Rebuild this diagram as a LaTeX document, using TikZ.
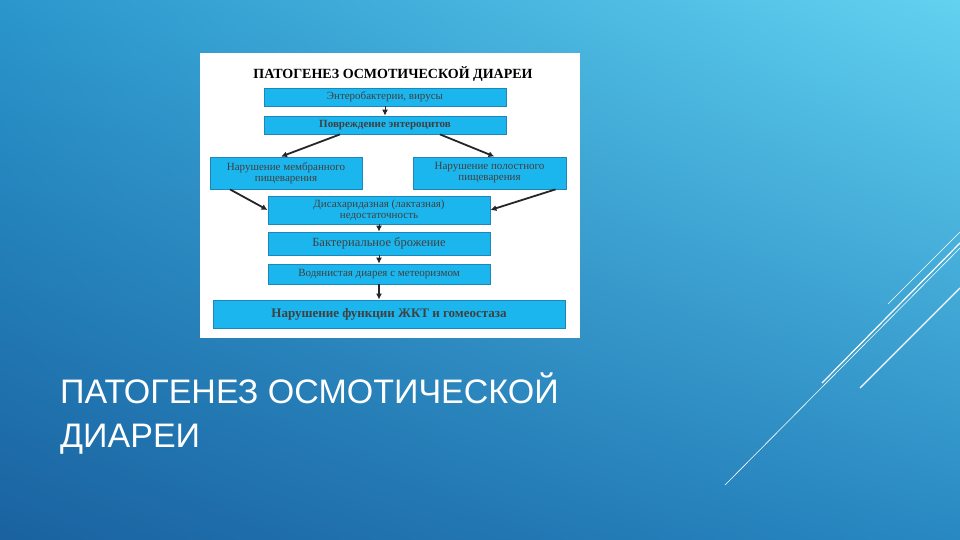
\documentclass[tikz,border=0pt]{standalone}
\usepackage{fontspec}
\setmainfont{Liberation Serif}
\newfontfamily\titlefont{Liberation Sans}
\usetikzlibrary{arrows.meta,shadings}
\definecolor{bxfill}{HTML}{1CB6EE}
\definecolor{bxdraw}{HTML}{1E86B8}
\definecolor{bgtr}{HTML}{62D2F0}
\definecolor{bgbl}{HTML}{1A62A0}
\definecolor{bgtl}{HTML}{2A96CC}
\definecolor{bgbr}{HTML}{2888C2}
\tikzset{
  bx/.style={draw=bxdraw,fill=bxfill,line width=0.8pt,inner sep=0pt,align=center,font=\fontsize{11}{11}\selectfont,text=black!75},
  ar/.style={-{Latex[length=6pt,width=6pt]},line width=1.8pt,black!85},
  deco/.style={white,line width=0.9pt}
}
\begin{document}
\begin{tikzpicture}[x=1pt,y=-1pt]
\shade[upper left=bgtl,upper right=bgtr,lower left=bgbl,lower right=bgbr] (0,0) rectangle (960,540);
\useasboundingbox (0,0) rectangle (960,540);
\fill[white] (200,53) rectangle (580,338);
\node[font=\bfseries\fontsize{14}{14}\selectfont] (t) at (393,74) {ПАТОГЕНЕЗ ОСМОТИЧЕСКОЙ ДИАРЕИ};
\node[bx,minimum width=242,minimum height=18] (b1) at (385,97) {Энтеробактерии, вирусы};
\node[bx,minimum width=242,minimum height=18,font=\bfseries\fontsize{11}{11}\selectfont] (b2) at (385,125) {Повреждение энтероцитов};
\node[bx,minimum width=152,minimum height=32] (b3) at (286,173) {Нарушение мембранного\\пищеварения};
\node[bx,minimum width=153,minimum height=32] (b4) at (489.5,173) {Нарушение полостного\\пищеварения};
\node[bx,minimum width=222,minimum height=28] (b5) at (379,210) {Дисахаридазная (лактазная)\\недостаточность};
\node[bx,minimum width=222,minimum height=23,font=\fontsize{12.5}{12.5}\selectfont] (b6) at (379,243.5) {Бактериальное брожение};
\node[bx,minimum width=222,minimum height=20] (b7) at (379,274) {Водянистая диарея с метеоризмом};
\node[bx,minimum width=352,minimum height=28,font=\bfseries\fontsize{13}{13}\selectfont] (b8) at (389,314) {Нарушение функции ЖКТ и гомеостаза};
\draw[ar,line width=1pt] (b1) -- (b2);
\draw[ar] ([xshift=-45pt]b2.south) -- ([xshift=-5pt]b3.north);
\draw[ar] ([xshift=55pt]b2.south) -- ([xshift=5pt]b4.north);
\draw[ar] ([xshift=-56pt]b3.south) -- (b5.west);
\draw[ar] ([xshift=66pt]b4.south) -- (b5.east);
\draw[ar,line width=1pt] (b5) -- (b6);
\draw[ar,line width=1pt] (b6) -- (b7);
\draw[ar] (b7.south) -- (b7.south |- b8.north);
\node[text=white,anchor=north west,align=left,font=\titlefont\fontsize{34}{44}\selectfont,inner sep=0pt] (tt) at (60,373) {ПАТОГЕНЕЗ ОСМОТИЧЕСКОЙ\\ДИАРЕИ};
\coordinate (d1) at (725,485); \coordinate (d2) at (960,248);
\coordinate (d3) at (822,383); \coordinate (d4) at (960,243);
\coordinate (d5) at (860,388); \coordinate (d6) at (960,288);
\coordinate (d7) at (888,304); \coordinate (d8) at (960,232);
\draw[deco,line width=0.6pt] (d1) -- (d2);
\draw[deco,line width=1.2pt] (d3) -- (d4);
\draw[deco,line width=1.2pt] (d5) -- (d6);
\draw[deco,line width=0.6pt] (d7) -- (d8);
\end{tikzpicture}
\end{document}
